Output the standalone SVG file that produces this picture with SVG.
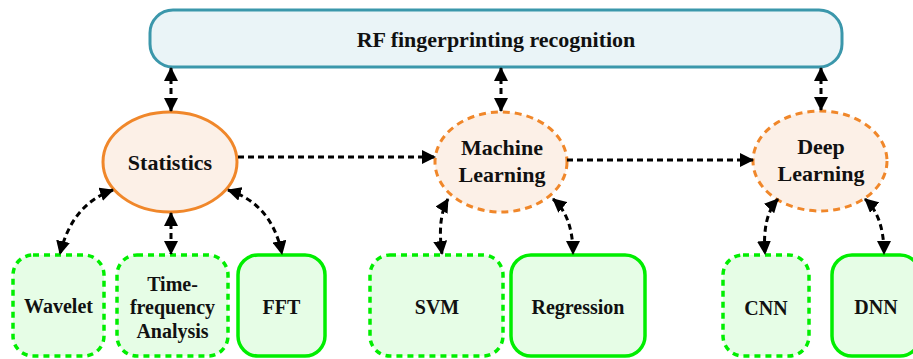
<svg xmlns="http://www.w3.org/2000/svg" width="913" height="359" viewBox="0 0 913 359">
  <style>
    text { font-family: "Liberation Serif", "Times New Roman", serif; font-weight: bold; fill: #111; text-anchor: middle; }
    .title { font-size: 22px; }
    .big { font-size: 22px; }
    .small { font-size: 20px; }
    .top { fill: #eaf4f7; stroke: #3b97ab; stroke-width: 3; }
    .ell { fill: #fcf0e7; stroke: #f0872a; stroke-width: 3; }
    .ell.dash { stroke-dasharray: 7 5; }
    .box { fill: #e6fde6; stroke: #00ee00; stroke-width: 3.5; }
    .box.dash { stroke-dasharray: 6 5; }
    .conn { fill: none; stroke: #000; stroke-width: 3; stroke-dasharray: 6 4; }
  </style>
  <defs>
    <marker id="arrow" viewBox="0 0 14 14" refX="13" refY="7" markerWidth="14" markerHeight="14" markerUnits="userSpaceOnUse" orient="auto-start-reverse">
      <path d="M0,0 L14,7 L0,14 Z" fill="#000"/>
    </marker>
  </defs>

  <g id="rf-recognition">
    <rect class="top" x="150" y="10" width="692" height="57" rx="23" ry="23"/>
    <text class="title" x="496" y="47">RF fingerprinting recognition</text>
  </g>

  <g id="statistics">
    <ellipse class="ell" cx="170" cy="162" rx="67" ry="50"/>
    <text class="big" x="170" y="170">Statistics</text>
  </g>
  <g id="machine-learning">
    <ellipse class="ell dash" cx="501" cy="162" rx="66" ry="50"/>
    <text class="big" x="502" y="155">Machine</text>
    <text class="big" x="502" y="182">Learning</text>
  </g>
  <g id="deep-learning">
    <ellipse class="ell dash" cx="820" cy="161" rx="67" ry="50"/>
    <text class="big" x="821" y="154">Deep</text>
    <text class="big" x="821" y="181">Learning</text>
  </g>

  <g id="wavelet">
    <rect class="box dash" x="13" y="255" width="91" height="101" rx="20" ry="20"/>
    <text class="small" x="58.5" y="313">Wavelet</text>
  </g>
  <g id="time-frequency">
    <rect class="box dash" x="117" y="255" width="111" height="101" rx="20" ry="20"/>
    <text class="small" x="172.5" y="291">Time-</text>
    <text class="small" x="172.5" y="314">frequency</text>
    <text class="small" x="172.5" y="338">Analysis</text>
  </g>
  <g id="fft">
    <rect class="box" x="238" y="255" width="87" height="101" rx="20" ry="20"/>
    <text class="small" x="281.5" y="314">FFT</text>
  </g>
  <g id="svm">
    <rect class="box dash" x="370" y="255" width="133" height="101" rx="20" ry="20"/>
    <text class="small" x="437" y="314">SVM</text>
  </g>
  <g id="regression">
    <rect class="box" x="511" y="255" width="134" height="101" rx="20" ry="20"/>
    <text class="small" x="578" y="314">Regression</text>
  </g>
  <g id="cnn">
    <rect class="box dash" x="723" y="255" width="86" height="101" rx="20" ry="20"/>
    <text class="small" x="766" y="315">CNN</text>
  </g>
  <g id="dnn">
    <rect class="box" x="832" y="255" width="88" height="101" rx="20" ry="20"/>
    <text class="small" x="876" y="314">DNN</text>
  </g>

  <g id="connectors">
    <path class="conn" d="M171,68 L171,111" marker-start="url(#arrow)" marker-end="url(#arrow)"/>
    <path class="conn" d="M501,68 L501,111" marker-start="url(#arrow)" marker-end="url(#arrow)"/>
    <path class="conn" d="M821,68 L821,110" marker-start="url(#arrow)" marker-end="url(#arrow)"/>
    <path class="conn" d="M238,157 L435,157" marker-end="url(#arrow)"/>
    <path class="conn" d="M567,160 L753,160" marker-end="url(#arrow)"/>
    <path class="conn" d="M113,190 Q72,204 60,254" marker-start="url(#arrow)" marker-end="url(#arrow)"/>
    <path class="conn" d="M171,213 L171,254" marker-start="url(#arrow)" marker-end="url(#arrow)"/>
    <path class="conn" d="M228,190 Q272,204 282,254" marker-start="url(#arrow)" marker-end="url(#arrow)"/>
    <path class="conn" d="M448,199 Q437,218 442,254" marker-start="url(#arrow)" marker-end="url(#arrow)"/>
    <path class="conn" d="M553,199 Q573,216 573,254" marker-start="url(#arrow)" marker-end="url(#arrow)"/>
    <path class="conn" d="M778,199 Q762,216 765,254" marker-start="url(#arrow)" marker-end="url(#arrow)"/>
    <path class="conn" d="M865,199 Q884,216 884,254" marker-start="url(#arrow)" marker-end="url(#arrow)"/>
  </g>
</svg>
